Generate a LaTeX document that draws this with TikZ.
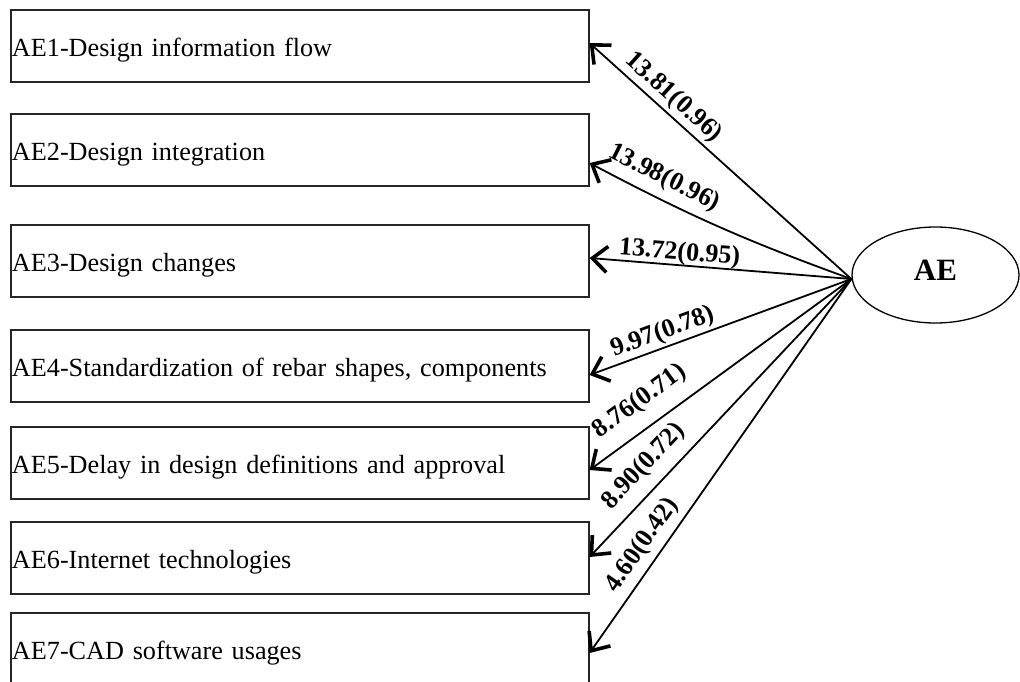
\documentclass[tikz,border=0pt]{standalone}
\usepackage{fontspec}
\setmainfont{Liberation Serif}
\usetikzlibrary{arrows.meta,shapes.geometric}

\begin{document}
\begin{tikzpicture}[x=1pt,y=-1pt,
  itembox/.style={draw=black!85, line width=1.2pt, rectangle,
    text width=576pt, align=left, inner xsep=1pt, inner ysep=0pt,
    minimum height=72pt, text height=20.8pt, text depth=0pt,
    font=\fontsize{26.2}{30}\selectfont},
  latent/.style={draw, ellipse, line width=1.3pt, minimum width=167pt,
    minimum height=96pt, inner sep=0pt, text height=20.5pt, text depth=9pt,
    font=\fontsize{31}{36}\selectfont\bfseries},
  loading/.style={line width=1.8pt,
    {Straight Barb[length=15pt,width=26pt,line width=0pt 2]}-},
  coef/.style={sloped, inner sep=0pt, font=\fontsize{26}{30}\selectfont\bfseries},
]
\useasboundingbox (0,0) rectangle (1020,682);
\fill[white] (0,0) rectangle (1020,682);

% observed indicators
\node[itembox] (b1) at (300,46)  {AE1-Design information flow};
\node[itembox] (b2) at (300,150) {AE2-Design integration};
\node[itembox] (b3) at (300,261) {AE3-Design changes};
\node[itembox] (b4) at (300,366) {AE4-Standardization of rebar shapes, components};
\node[itembox] (b5) at (300,463) {AE5-Delay in design definitions and approval};
\node[itembox] (b6) at (300,558) {AE6-Internet technologies};
\node[itembox] (b7) at (300,649) {AE7-CAD software usages};

% latent construct
\node[latent] (ae) at (935.5,275) {AE};
\coordinate (hub) at ([yshift=-4pt]ae.west);

% factor loadings
\draw[loading] ([yshift=3pt]b1.east) -- node[coef, pos=0.28, above=3pt] {13.81(0.96)} (hub);
\draw[loading] ([yshift=-13pt]b2.east) to[bend right=4] node[coef, pos=0.24, above=8pt] {13.98(0.96)} (hub);
\draw[loading] ([yshift=3pt]b3.east) -- node[coef, pos=0.34, above=-1pt] {13.72(0.95)} (hub);
\draw[loading] ([yshift=-9pt]b4.east) -- node[coef, pos=0.30, above=2pt] {9.97(0.78)} (hub);
\draw[loading] ([yshift=-7pt]b5.east) -- node[coef, pos=0.25, above=13pt] {8.76(0.71)} (hub);
\draw[loading] ([yshift=1pt]b6.east) -- node[coef, pos=0.27, above=10pt] {8.90(0.72)} (hub);
\draw[loading] ([yshift=-4pt]b7.east) -- node[coef, pos=0.26, above=6pt] {4.60(0.42)} (hub);
\end{tikzpicture}
\end{document}
